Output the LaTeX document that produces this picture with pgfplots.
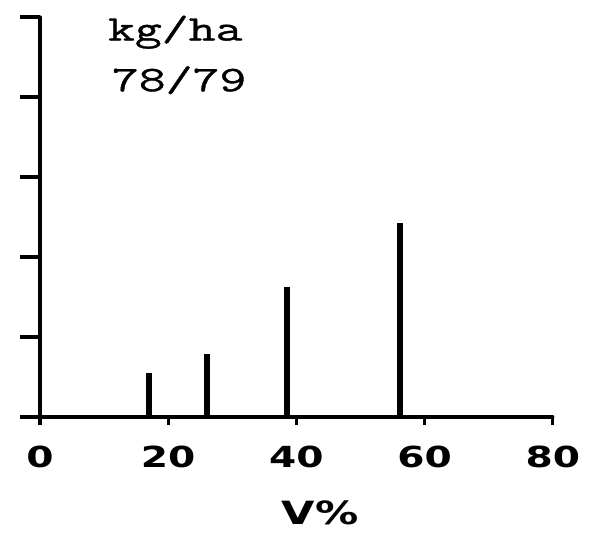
\documentclass[border=0pt]{standalone}
\usepackage{fontspec}
\usepackage{pgfplots}
\pgfplotsset{compat=1.18}
\newfontfamily\notefont[FakeStretch=1.45,FakeBold=1]{Latin Modern Mono}
\newfontfamily\tickfont[FakeStretch=1.35]{DejaVu Sans Bold}
\begin{document}
\begin{tikzpicture}
\path[use as bounding box] (-40pt,-117pt) rectangle (556pt,417pt);
\begin{axis}[
  at={(0,0)}, anchor=south west,
  scale only axis,
  x=6.41pt, y=80pt,
  xmin=0, xmax=80, ymin=0, ymax=5,
  axis x line=bottom, axis y line=left,
  axis line style={-, line width=3.2pt, line cap=round},
  every tick/.style={black, line width=3.2pt},
  tick align=outside,
  major tick length=20pt,
  minor tick length=8pt,
  xtick={0,20,40,60,80},
  minor xtick={0,20,40,60,80},
  major x tick style={draw=none},
  minor x tick style={black, line width=3.2pt},
  ytick={0,1,2,3,4,5},
  yticklabels={},
  /pgf/number format/assume math mode=true,
  xticklabel style={font=\tickfont\fontsize{29}{30}\selectfont, anchor=center, yshift=-20pt},
  clip=false,
]
\addplot[ycomb, black, line width=6pt, mark=none]
  coordinates {(17.0,0.55) (26.0,0.79) (38.5,1.63) (56.2,2.43)};
\node[font=\notefont\fontsize{36}{38}\selectfont] at (axis cs:21.1,4.81) {kg/ha};
\node[font=\notefont\fontsize{36}{38}\selectfont] at (axis cs:21.7,4.21) {78/79};
\node[font=\tickfont\fontsize{32}{34}\selectfont] at (axis cs:43.7,-1.2) {V\%};
\end{axis}
\end{tikzpicture}
\end{document}
